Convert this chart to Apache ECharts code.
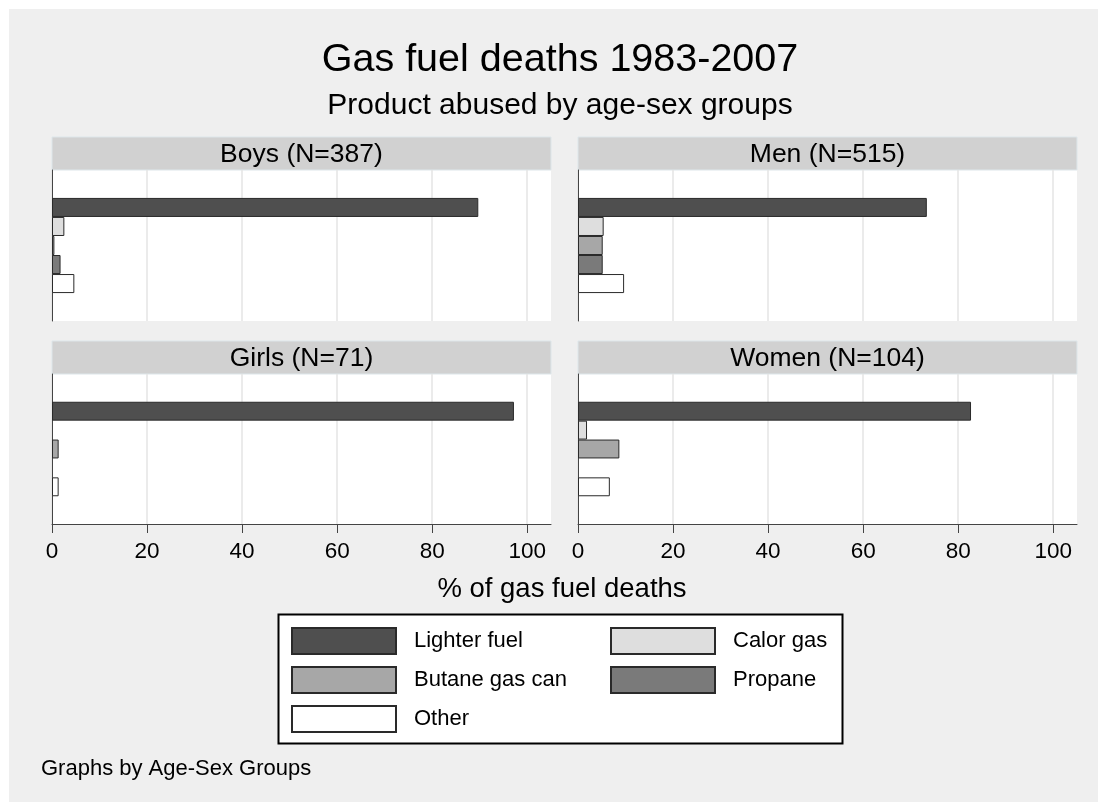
<!DOCTYPE html>
<html>
<head>
<meta charset="utf-8">
<title>Gas fuel deaths 1983-2007</title>
<script src="https://cdn.jsdelivr.net/npm/echarts@6/dist/echarts.min.js"></script>
<style>
  html, body { margin: 0; padding: 0; background: #ffffff; }
  #chart { width: 1106px; height: 810px; }
</style>
</head>
<body>
<div id="chart"></div>
<script>
// panels (age-sex groups) and products
var groups = ['Boys (N=387)', 'Men (N=515)', 'Girls (N=71)', 'Women (N=104)'];
var products = ['Lighter fuel', 'Calor gas', 'Butane gas can', 'Propane', 'Other'];

// % of gas fuel deaths, one value per panel (Boys, Men, Girls, Women)
var lighterFuel  = [89.7, 73.4, 97.2, 82.7];
var calorGas     = [2.6, 5.4, 0, 1.9];
var butaneGasCan = [0.5, 5.2, 1.4, 8.7];
var propane      = [1.8, 5.2, 0, 0];
var other        = [4.7, 9.7, 1.4, 6.7];

var xTicks = [0, 20, 40, 60, 80, 100];

var FONT = '"Liberation Sans", Arial, sans-serif';
var seriesValues = [lighterFuel, calorGas, butaneGasCan, propane, other];
var colors = ['#4f4f4f', '#dedede', '#a7a7a7', '#7a7a7a', '#ffffff'];

// panel boxes
var panels = [
  { left: 52,  top: 170, width: 499, height: 151, headTop: 137 },
  { left: 578, top: 170, width: 499, height: 151, headTop: 137 },
  { left: 52,  top: 374, width: 499, height: 150, headTop: 341 },
  { left: 578, top: 374, width: 499, height: 150, headTop: 341 }
];

var chart = echarts.init(document.getElementById('chart'));

var grids = [], xAxes = [], yAxes = [], series = [], graphics = [];

// gray background
graphics.push({
  type: 'rect', z: -10, silent: true,
  shape: { x: 9, y: 9, width: 1089, height: 793 },
  style: { fill: '#efefef' }
});

for (var p = 0; p < panels.length; p++) {
  var b = panels[p];
  var bottomRow = p >= 2;
  grids.push({ left: b.left, top: b.top, width: b.width, height: b.height,
    backgroundColor: '#ffffff', show: true, borderWidth: 0 });
  xAxes.push({
    type: 'value', gridIndex: p, min: 0, max: 105,
    axisLine: { show: bottomRow, onZero: false, lineStyle: { color: '#444', width: 1 } },
    axisTick: { show: bottomRow, length: 9, customValues: xTicks, lineStyle: { color: '#444' } },
    axisLabel: { show: bottomRow, customValues: xTicks, margin: 16,
      fontFamily: FONT, fontSize: 22.5, color: '#000' },
    splitLine: { show: true, lineStyle: { color: '#e4e4e4', width: 1.5 } }
  });
  yAxes.push({
    type: 'category', gridIndex: p, data: [''], inverse: true,
    axisLine: { show: true, lineStyle: { color: '#444', width: 1 } },
    axisTick: { show: false }, axisLabel: { show: false }, splitLine: { show: false }
  });
  for (var s = 0; s < products.length; s++) {
    var v = seriesValues[s][p];
    series.push({
      name: products[s], type: 'bar', xAxisIndex: p, yAxisIndex: p,
      barGap: '0%', barCategoryGap: '37%',
      data: [v === 0 ? '-' : v],
      itemStyle: { color: colors[s], borderColor: '#2a2a2a', borderWidth: 1 },
      emphasis: { disabled: true },
      animation: false
    });
  }
  // panel header
  graphics.push({
    type: 'rect', silent: true,
    shape: { x: b.left, y: b.headTop, width: b.width, height: 33 },
    style: { fill: '#d1d1d1', stroke: '#dde6ea', lineWidth: 1 }
  });
  graphics.push({
    type: 'text', silent: true,
    x: b.left + b.width / 2, y: b.headTop + 17.5,
    style: { text: groups[p], fontFamily: FONT, fontSize: 26.5, fill: '#000',
      align: 'center', verticalAlign: 'middle' }
  });
}

// x axis title
graphics.push({
  type: 'text', silent: true, x: 562, y: 589,
  style: { text: '% of gas fuel deaths', fontFamily: FONT, fontSize: 27.5, fill: '#000',
    align: 'center', verticalAlign: 'middle' }
});
// legend box
graphics.push({
  type: 'rect', silent: true, z: -1,
  shape: { x: 278.5, y: 614.5, width: 564, height: 129 },
  style: { fill: '#ffffff', stroke: '#000', lineWidth: 2 }
});
// note
graphics.push({
  type: 'text', silent: true, x: 41, y: 769,
  style: { text: 'Graphs by Age-Sex Groups', fontFamily: FONT, fontSize: 22, fill: '#000',
    align: 'left', verticalAlign: 'middle' }
});

var legendBase = {
  orient: 'vertical', padding: 0, itemWidth: 104, itemHeight: 26, itemGap: 11,
  icon: 'rect', selectedMode: false,
  textStyle: { fontFamily: FONT, fontSize: 22, lineHeight: 26, color: '#000', padding: [0, 0, 0, 13] }
};

var option = {
  backgroundColor: '#ffffff',
  animation: false,
  title: [
    { text: 'Gas fuel deaths 1983-2007', left: 560, top: 40, textAlign: 'center', padding: 0,
      textStyle: { fontFamily: FONT, fontSize: 39.5, fontWeight: 'normal', color: '#000' } },
    { text: 'Product abused by age-sex groups', left: 560, top: 91, textAlign: 'center', padding: 0,
      textStyle: { fontFamily: FONT, fontSize: 30, fontWeight: 'normal', color: '#000' } }
  ],
  legend: [
    Object.assign({}, legendBase, { left: 291, top: 627, data: ['Lighter fuel', 'Butane gas can', 'Other'] }),
    Object.assign({}, legendBase, { left: 610, top: 627, data: ['Calor gas', 'Propane'] })
  ],
  grid: grids,
  xAxis: xAxes,
  yAxis: yAxes,
  series: series,
  graphic: graphics
};

chart.setOption(option);
</script>
</body>
</html>
